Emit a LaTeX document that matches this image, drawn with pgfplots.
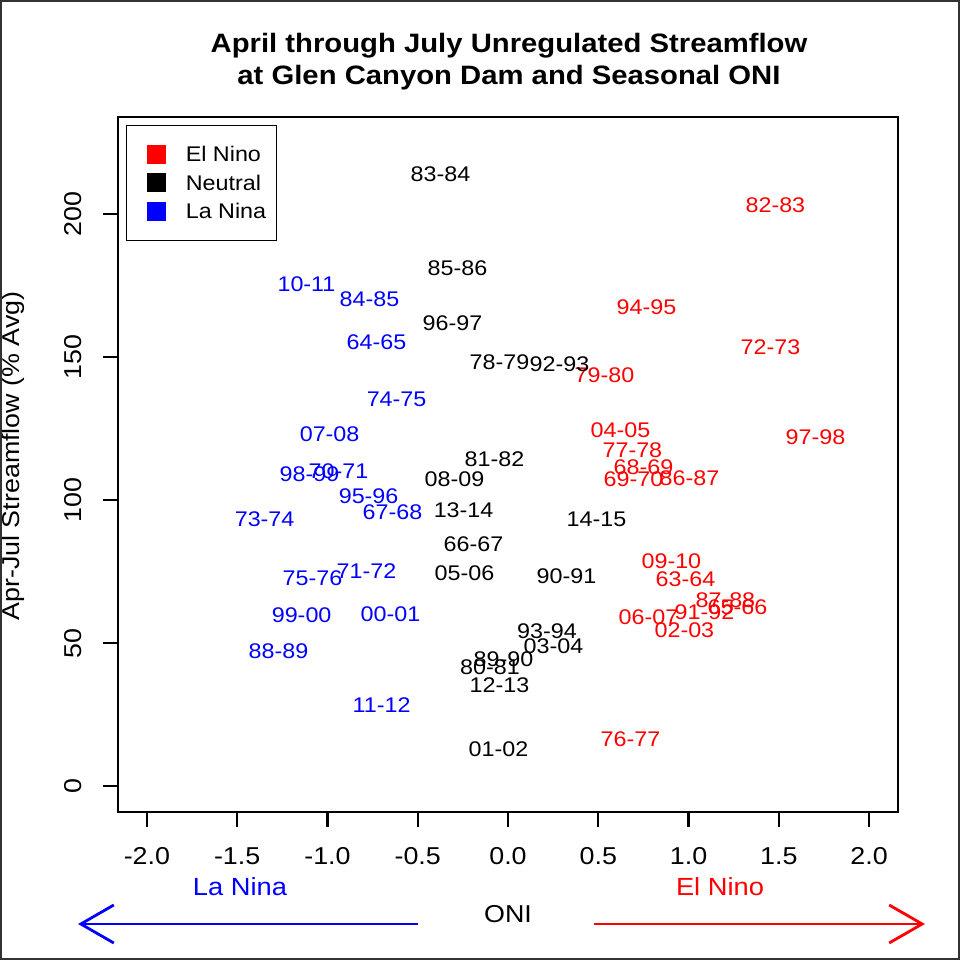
\documentclass[border=0pt]{standalone}
\usepackage{pgfplots}
\pgfplotsset{compat=1.18}
\usepackage{pgfplotstable}
\usepackage{fontspec}
\setmainfont{Liberation Sans}[FakeStretch=1.1]
\usetikzlibrary{arrows.meta}

\pgfplotstableread{
x y label
1.481 203.3 82-83
0.767 167.6 94-95
1.454 153.6 72-73
0.534 143.8 79-80
0.623 124.6 04-05
0.689 117.6 77-78
0.750 111.6 68-69
0.695 107.4 69-70
1.005 107.8 86-87
1.703 122.1 97-98
0.905 78.8 09-10
0.983 72.5 63-64
1.204 65.1 87-88
1.271 62.7 65-66
1.088 60.9 91-92
0.778 59.2 06-07
0.977 54.7 02-03
0.678 16.5 76-77
}\elnino

\pgfplotstableread{
x y label
-0.374 214.1 83-84
-0.280 181.2 85-86
-0.307 162.0 96-97
-0.047 148.4 78-79
0.285 147.7 92-93
-0.075 114.4 81-82
-0.296 107.4 08-09
-0.246 96.6 13-14
0.490 93.5 14-15
-0.191 84.7 66-67
-0.241 74.6 05-06
0.324 73.5 90-91
0.216 54.3 93-94
0.252 49.1 03-04
-0.025 44.3 89-90
-0.100 41.7 80-81
-0.047 35.4 12-13
-0.053 13.0 01-02
}\neutral

\pgfplotstableread{
x y label
-1.116 175.6 10-11
-0.767 170.4 84-85
-0.728 155.3 64-65
-0.617 135.4 74-75
-0.988 123.2 07-08
-1.099 109.2 98-99
-0.939 110.2 70-71
-0.772 101.5 95-96
-0.640 95.9 67-68
-1.348 93.5 73-74
-0.784 75.3 71-72
-1.083 72.8 75-76
-1.143 59.9 99-00
-0.651 60.2 00-01
-1.271 47.3 88-89
-0.700 28.4 11-12
}\lanina

\begin{document}
\begin{tikzpicture}
\useasboundingbox (0,0) rectangle (480pt,480pt);
\begin{axis}[
  at={(59pt,74pt)}, anchor=south west,
  scale only axis, width=390pt, height=347.5pt,
  xmin=-2.16, xmax=2.16, ymin=-9, ymax=234,
  xtick={-2,-1.5,-1,-0.5,0,0.5,1,1.5,2},
  ytick={0,50,100,150,200},
  tick pos=left, tick align=outside,
  major tick length=7.5pt,
  every tick/.style={black, line width=1.15pt},
  axis line style={line width=1.15pt},
  /pgf/number format/assume math mode=true,
  xticklabel style={/pgf/number format/.cd, fixed, fixed zerofill, precision=1, /tikz/.cd,
     font=\fontsize{12.2}{14}\selectfont, anchor=north, inner sep=0pt},
  yticklabel style={/pgf/number format/.cd, fixed, precision=0, /tikz/.cd,
     font=\fontsize{12.2}{14}\selectfont, rotate=90, anchor=south, inner sep=0pt},
  xticklabel shift=10pt,
  yticklabel shift=10.5pt,
  legend cell align=left,
  legend image code/.code={\path (0pt,0pt); \fill[#1] (5pt,-0.75pt) rectangle (14pt,8.25pt);},
  legend style={at={(0.01026,0.98849)}, anchor=north west, draw=black, line width=0.6pt,
     inner xsep=5pt, inner ysep=9.5pt, row sep=4.2pt,
     nodes={inner sep=0pt, anchor=base west},
     /tikz/every odd column/.append style={column sep=10pt},
     font=\fontsize{10.6}{12}\selectfont},
]
\addlegendimage{red}
\addlegendentry{El Nino}
\addlegendimage{black}
\addlegendentry{Neutral}
\addlegendimage{blue}
\addlegendentry{La Nina}

\addplot[forget plot, only marks, mark=*, mark size=0pt, mark options={draw=none, fill=none},
  nodes near coords, point meta=explicit symbolic,
  every node near coord/.append style={anchor=center, text=red, inner sep=0pt, font=\fontsize{10.6}{12}\selectfont}]
  table[x=x, y=y, meta=label] {\elnino};
\addplot[forget plot, only marks, mark=*, mark size=0pt, mark options={draw=none, fill=none},
  nodes near coords, point meta=explicit symbolic,
  every node near coord/.append style={anchor=center, text=black, inner sep=0pt, font=\fontsize{10.6}{12}\selectfont}]
  table[x=x, y=y, meta=label] {\neutral};
\addplot[forget plot, only marks, mark=*, mark size=0pt, mark options={draw=none, fill=none},
  nodes near coords, point meta=explicit symbolic,
  every node near coord/.append style={anchor=center, text=blue, inner sep=0pt, font=\fontsize{10.6}{12}\selectfont}]
  table[x=x, y=y, meta=label] {\lanina};
\end{axis}

% title
\node[align=center, font=\fontsize{13.3}{16}\selectfont\bfseries] at (254.5pt,449pt)
  {April through July Unregulated Streamflow\\at Glen Canyon Dam and Seasonal ONI};
% y label
\node[rotate=90, anchor=base, inner sep=0pt, font=\fontsize{12.2}{14}\selectfont] at (9.5pt,252pt)
  {Apr-Jul Streamflow (\% Avg)};
% x label and annotations
\node[font=\fontsize{12.2}{14}\selectfont] at (254pt,23pt) {ONI};
\node[font=\fontsize{12.4}{14}\selectfont, text=blue] at (120pt,36.5pt) {La Nina};
\node[font=\fontsize{12.4}{14}\selectfont, text=red] at (360pt,36.5pt) {El Nino};
\draw[blue, line width=1.4pt, -{Straight Barb[length=16.5pt, width=19pt]}] (209pt,18pt) -- (39pt,18pt);
\draw[red, line width=1.4pt, -{Straight Barb[length=16.5pt, width=19pt]}] (297pt,18pt) -- (462.5pt,18pt);
% outer frame
\draw[line width=1pt, black!80] (0.5pt,0.5pt) rectangle (479.5pt,479.5pt);
\end{tikzpicture}
\end{document}
